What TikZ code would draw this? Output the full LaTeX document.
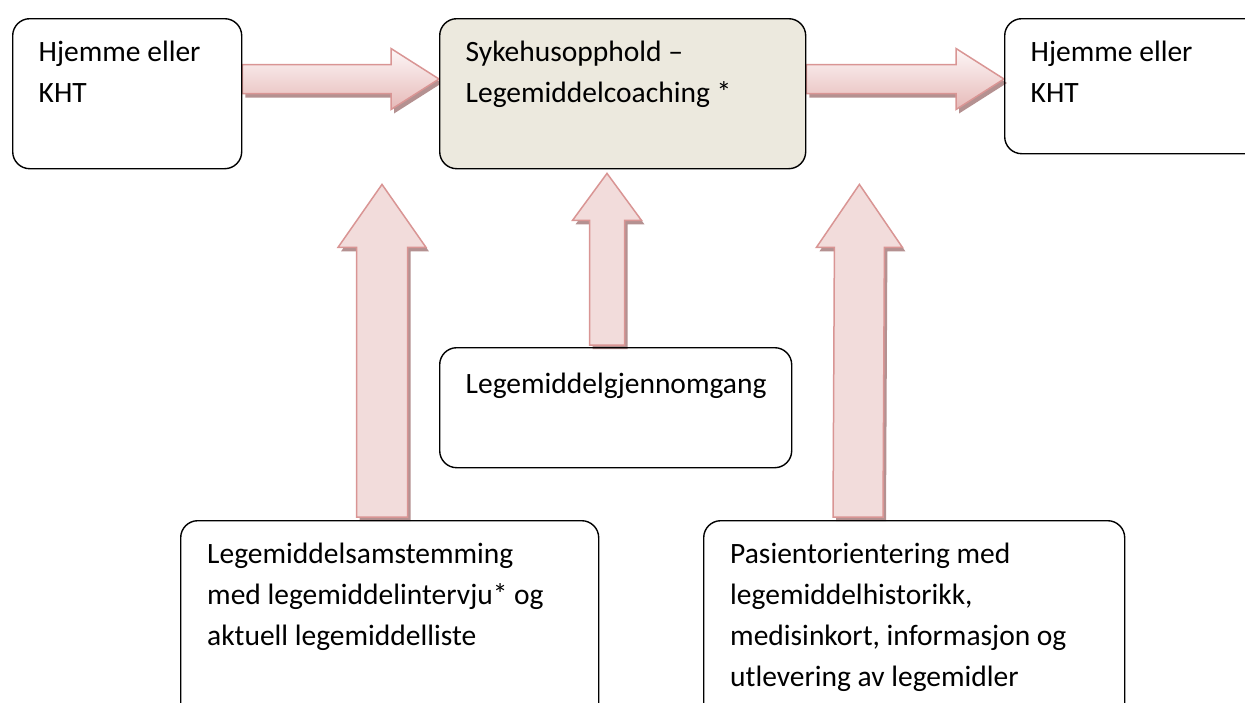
\documentclass[tikz,border=0pt]{standalone}
\usepackage{fontspec}
\setmainfont{Carlito}
\usetikzlibrary{calc,shadows,backgrounds}

\definecolor{pilkant}{RGB}{217,149,148}
\definecolor{pilfyll}{RGB}{242,220,219}
\definecolor{piltopp}{RGB}{253,247,247}
\definecolor{pilbunn}{RGB}{230,185,184}
\definecolor{pilskygge}{RGB}{180,145,145}
\definecolor{sykefyll}{RGB}{236,233,222}

\tikzset{
  boks/.style={draw=black, line width=1.4pt, rounded corners=17pt, inner sep=0pt, anchor=north west},
  tekst/.style={inner sep=0pt, anchor=north west, align=left,
    font=\fontsize{29.5}{41}\selectfont, execute at begin node=\rule{0pt}{25pt}},
  pil/.style={draw=pilkant, line width=1.5pt, line join=miter,
    drop shadow={shadow xshift=3pt, shadow yshift=-4pt, fill=pilskygge, opacity=1}},
  hpil/.style={pil, top color=piltopp, bottom color=pilbunn},
  vpil/.style={pil, fill=pilfyll}
}

% block arrow to the right: style, from, to, shaft half, head half, head length
\newcommand{\pilhoyre}[6]{%
  \draw[#1] ($(#2)+(0,-#4)$) -- ($(#3)+(-#6,-#4)$) -- ($(#3)+(-#6,-#5)$) -- (#3)
    -- ($(#3)+(-#6,#5)$) -- ($(#3)+(-#6,#4)$) -- ($(#2)+(0,#4)$) -- cycle;}
% block arrow upwards: style, from, to, shaft half, head half, head length
\newcommand{\pilopp}[6]{%
  \draw[#1] ($(#2)+(-#4,0)$) -- ($(#3)+(-#4,#6)$) -- ($(#3)+(-#5,#6)$) -- (#3)
    -- ($(#3)+(#5,#6)$) -- ($(#3)+(#4,#6)$) -- ($(#2)+(#4,0)$) -- cycle;}

\begin{document}
\begin{tikzpicture}[x=1pt, y=-1pt]
 \useasboundingbox (0,0) rectangle (1245,702);

 %boxes
 \node[boks, minimum width=229pt, minimum height=150pt] (hjem1) at (12,18) {};
 \node[boks, fill=sykefyll, minimum width=366pt, minimum height=150pt] (sykehus) at (439,18) {};
 \node[boks, minimum width=260pt, minimum height=135pt] (hjem2) at (1004,18) {};
 \node[boks, minimum width=352pt, minimum height=120pt] (gjennomgang) at (439,347) {};
 \node[boks, minimum width=418pt, minimum height=200pt] (samstemming) at (180,520) {};
 \node[boks, minimum width=421pt, minimum height=200pt] (orientering) at (703,520) {};

 %texts
 \node[tekst] (t1) at ($(hjem1.north west)+(26.5,23)$) {Hjemme eller\\KHT};
 \node[tekst] (t2) at ($(sykehus.north west)+(26.5,23)$) {Sykehusopphold –\\Legemiddelcoaching *};
 \node[tekst] (t3) at ($(hjem2.north west)+(26.5,23)$) {Hjemme eller\\KHT};
 \node[tekst] (t4) at ($(gjennomgang.north west)+(26.5,21)$) {Legemiddelgjennomgang};
 \node[tekst] (t5) at ($(samstemming.north west)+(27,23)$) {Legemiddelsamstemming\\med legemiddelintervju* og\\aktuell legemiddelliste};
 \node[tekst] (t6) at ($(orientering.north west)+(27,23)$) {Pasientorientering med\\legemiddelhistorikk,\\medisinkort, informasjon og\\utlevering av legemidler};

 %arrow ends
 \coordinate (h1s) at ($(hjem1.north east)+(0,61)$);
 \coordinate (h1e) at ($(sykehus.north west)+(0,61)$);
 \coordinate (h2s) at ($(sykehus.north east)+(0,61)$);
 \coordinate (h2e) at ($(hjem2.north west)+(0,61)$);
 \coordinate (v1s) at ($(samstemming.north west)+(202,-3)$);
 \coordinate (v1e) at ($(sykehus.south west)+(-57,15)$);
 \coordinate (v2s) at ($(gjennomgang.north west)+(168,-2)$);
 \coordinate (v2e) at ($(sykehus.south west)+(168,4)$);
 \coordinate (v3s) at ($(orientering.north west)+(155,-3)$);
 \coordinate (v3e) at ($(sykehus.south east)+(53,15)$);

 %block arrows
 \begin{scope}[on background layer]
  \pilhoyre{hpil}{h1s}{h1e}{14.5}{30.5}{48}
  \pilhoyre{hpil}{h2s}{h2e}{14.5}{30.5}{48}
  \pilopp{vpil}{v1s}{v1e}{25.5}{44}{63}
  \pilopp{vpil}{v2s}{v2e}{17.5}{34.5}{47}
  \pilopp{vpil}{v3s}{v3e}{25}{43}{63}
 \end{scope}
\end{tikzpicture}
\end{document}
